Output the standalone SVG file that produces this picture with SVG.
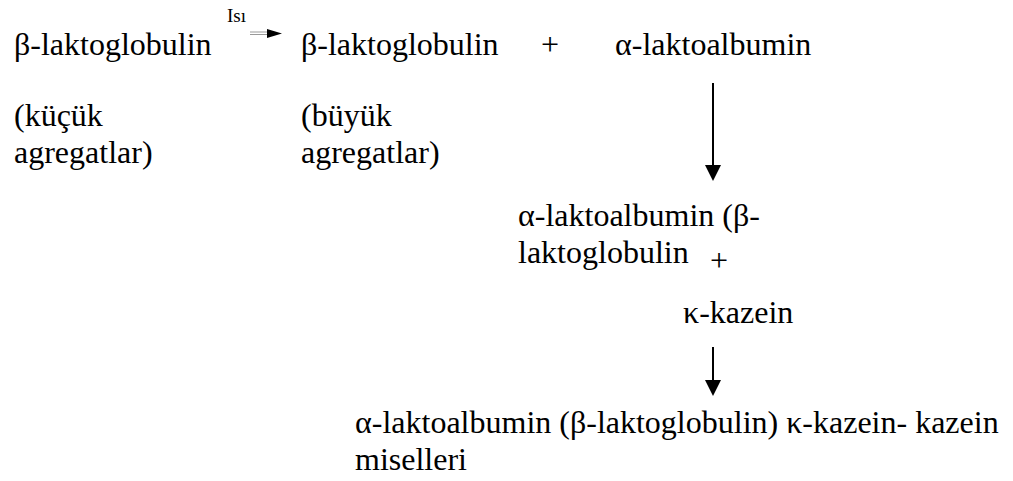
<svg xmlns="http://www.w3.org/2000/svg" width="1013" height="481" viewBox="0 0 1013 481">
  <defs>
    <!-- solid triangular head shared by the downward arrows -->
    <path id="headDown" d="M-8,0 L8,0 L0,16 Z" fill="#000"/>
  </defs>
  <rect width="1013" height="481" fill="#fff"/>

  <g id="connectors">
    <!-- heat step: thin double line with a small head -->
    <line x1="250" y1="32" x2="270" y2="32" stroke="#999" stroke-width="1"/>
    <line x1="250" y1="34.5" x2="270" y2="34.5" stroke="#999" stroke-width="1"/>
    <path d="M267,29 L282,33.5 L267,38 Z" fill="#000"/>
    <text x="227" y="22" font-family="Liberation Serif" font-size="19">Isı</text>
    <line x1="713" y1="83" x2="713" y2="168" stroke="#000" stroke-width="2"/>
    <use href="#headDown" x="713" y="165"/>
    <line x1="713" y1="347" x2="713" y2="382" stroke="#000" stroke-width="2"/>
    <use href="#headDown" x="713" y="380"/>
  </g>

  <g id="node-beta-small">
    <text x="14" y="55" font-family="Liberation Serif" font-size="32">β-laktoglobulin</text>
    <text x="14" y="126" font-family="Liberation Serif" font-size="32">(küçük</text>
    <text x="14" y="163" font-family="Liberation Serif" font-size="32">agregatlar)</text>
  </g>

  <g id="node-beta-large">
    <text x="301" y="55" font-family="Liberation Serif" font-size="32">β-laktoglobulin</text>
    <text x="301" y="126" font-family="Liberation Serif" font-size="32">(büyük</text>
    <text x="301" y="163" font-family="Liberation Serif" font-size="32">agregatlar)</text>
  </g>

  <g id="plus-1">
    <text x="541" y="55" font-family="Liberation Serif" font-size="32">+</text>
  </g>

  <g id="node-alpha">
    <text x="615" y="55" font-family="Liberation Serif" font-size="32">α-laktoalbumin</text>
  </g>

  <g id="node-alpha-beta">
    <text x="518" y="226" font-family="Liberation Serif" font-size="32">α-laktoalbumin (β-</text>
    <text x="518" y="263" font-family="Liberation Serif" font-size="32">laktoglobulin</text>
  </g>

  <g id="plus-2">
    <text x="719" y="271" text-anchor="middle" font-family="Liberation Serif" font-size="32">+</text>
  </g>

  <g id="node-kappa">
    <text x="683" y="323" font-family="Liberation Serif" font-size="32">κ-kazein</text>
  </g>

  <g id="node-micelle">
    <text x="355" y="433" font-family="Liberation Serif" font-size="32">α-laktoalbumin (β-laktoglobulin) κ-kazein- kazein</text>
    <text x="355" y="470" font-family="Liberation Serif" font-size="32">miselleri</text>
  </g>
</svg>
